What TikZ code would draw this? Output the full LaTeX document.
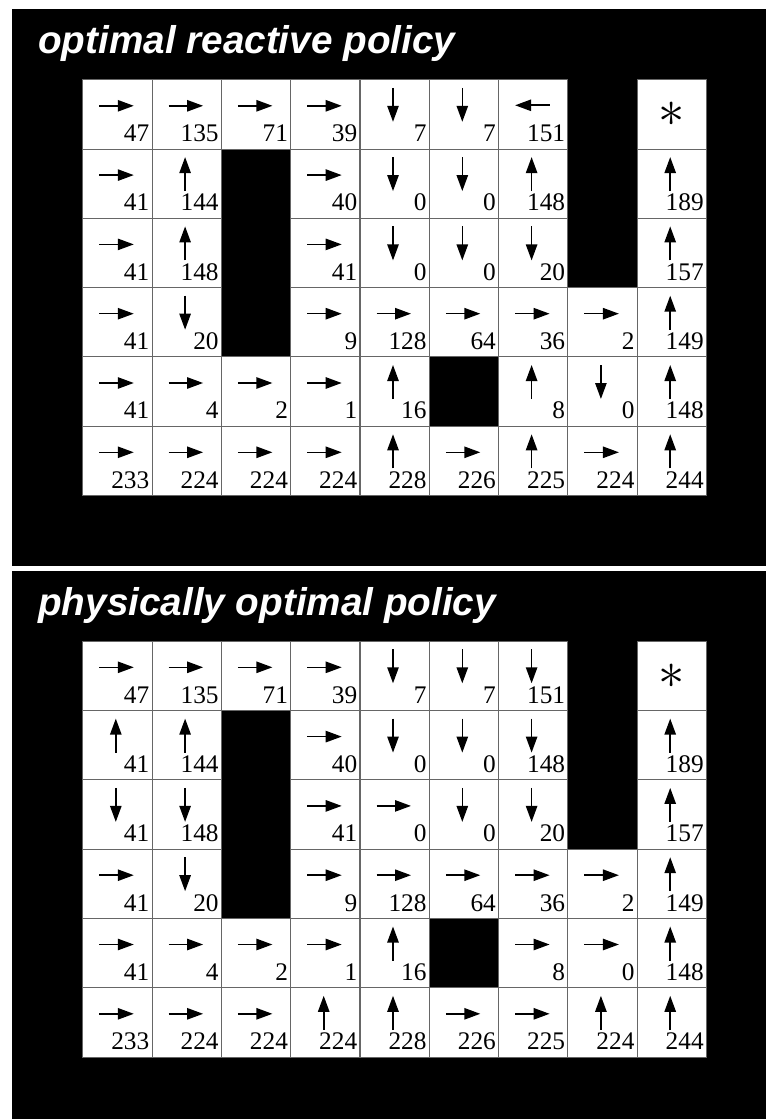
\documentclass[tikz,border=0pt]{standalone}
\usepackage{fontspec}
\setmainfont{Liberation Serif}
\setsansfont{Liberation Sans}
\usetikzlibrary{arrows.meta, positioning, calc}
\tikzset{
	cell/.style={rectangle, draw=black!60, fill=white, line width=0.75pt, minimum size=51.97pt, inner sep=0pt, anchor=north west},
	policy_arrow/.style={-{Triangle[length=12pt, width=8.5pt]}, line width=1.2pt},
	visits/.style={font=\fontsize{19}{20}\selectfont, anchor=base east, inner sep=0pt},
	goal/.style={font=\huge, scale=1.9, inner sep=0pt},
	panel_title/.style={font=\fontsize{29}{31}\selectfont\sffamily\bfseries\itshape, text=white, anchor=base west, inner sep=0pt}
}
% one cell of a policy grid: #1 grid, #2 row, #3 column, #4 count
\newcommand{\cellbox}[3]{\node[cell] (#1-#2-#3) at ([shift={({69.3*#3},{69.3*#2})}]#1) {};}
\newcommand{\cellcount}[4]{\node[visits] at ([shift={(-3,-8)}]#1-#2-#3.south east) {#4};}
\newcommand{\cellR}[4]{\cellbox{#1}{#2}{#3}
	\draw[policy_arrow] ([shift={(17,26.5)}]#1-#2-#3.north west) -- ([shift={(51.5,26.5)}]#1-#2-#3.north west);
	\cellcount{#1}{#2}{#3}{#4}}
\newcommand{\cellL}[4]{\cellbox{#1}{#2}{#3}
	\draw[policy_arrow] ([shift={(51.5,26)}]#1-#2-#3.north west) -- ([shift={(17,26)}]#1-#2-#3.north west);
	\cellcount{#1}{#2}{#3}{#4}}
\newcommand{\cellD}[4]{\cellbox{#1}{#2}{#3}
	\draw[policy_arrow] ([shift={(33.5,8.5)}]#1-#2-#3.north west) -- ([shift={(33.5,42.5)}]#1-#2-#3.north west);
	\cellcount{#1}{#2}{#3}{#4}}
\newcommand{\cellU}[4]{\cellbox{#1}{#2}{#3}
	\draw[policy_arrow] ([shift={(33.5,42.5)}]#1-#2-#3.north west) -- ([shift={(33.5,8.5)}]#1-#2-#3.north west);
	\cellcount{#1}{#2}{#3}{#4}}
\newcommand{\cellG}[4]{\cellbox{#1}{#2}{#3}
	\node[goal] (#1-goal) at ([shift={(0,0)}]#1-#2-#3.center) {$\ast$};}
\newcommand{\cellW}[4]{}

\begin{document}
\begin{tikzpicture}[x=0.75pt, y=-0.75pt]
	\fill[white] (0,0) rectangle (766,1119);
	\fill[black] (12,9.5) rectangle (766,566);
	\fill[black] (12,571) rectangle (766,1119);

	% optimal reactive policy
	\node[panel_title] (title-top) at (38,54) {optimal reactive policy};
	\coordinate (top) at (82.3,79.3);
	\foreach \r/\rowdata in {
		0/{R/47,R/135,R/71,R/39,D/7,D/7,L/151,W/-,G/-},
		1/{R/41,U/144,W/-,R/40,D/0,D/0,U/148,W/-,U/189},
		2/{R/41,U/148,W/-,R/41,D/0,D/0,D/20,W/-,U/157},
		3/{R/41,D/20,W/-,R/9,R/128,R/64,R/36,R/2,U/149},
		4/{R/41,R/4,R/2,R/1,U/16,W/-,U/8,D/0,U/148},
		5/{R/233,R/224,R/224,R/224,U/228,R/226,U/225,R/224,U/244}} {
		\foreach \d/\v [count=\c from 0] in \rowdata {
			\csname cell\d\endcsname{top}{\r}{\c}{\v}
		}
	}

	% physically optimal policy
	\node[panel_title] (title-bot) at (38,615) {physically optimal policy};
	\coordinate (bot) at (82.3,640.8);
	\foreach \r/\rowdata in {
		0/{R/47,R/135,R/71,R/39,D/7,D/7,D/151,W/-,G/-},
		1/{U/41,U/144,W/-,R/40,D/0,D/0,D/148,W/-,U/189},
		2/{D/41,D/148,W/-,R/41,R/0,D/0,D/20,W/-,U/157},
		3/{R/41,D/20,W/-,R/9,R/128,R/64,R/36,R/2,U/149},
		4/{R/41,R/4,R/2,R/1,U/16,W/-,R/8,R/0,U/148},
		5/{R/233,R/224,R/224,U/224,U/228,R/226,R/225,U/224,U/244}} {
		\foreach \d/\v [count=\c from 0] in \rowdata {
			\csname cell\d\endcsname{bot}{\r}{\c}{\v}
		}
	}
\end{tikzpicture}
\end{document}
